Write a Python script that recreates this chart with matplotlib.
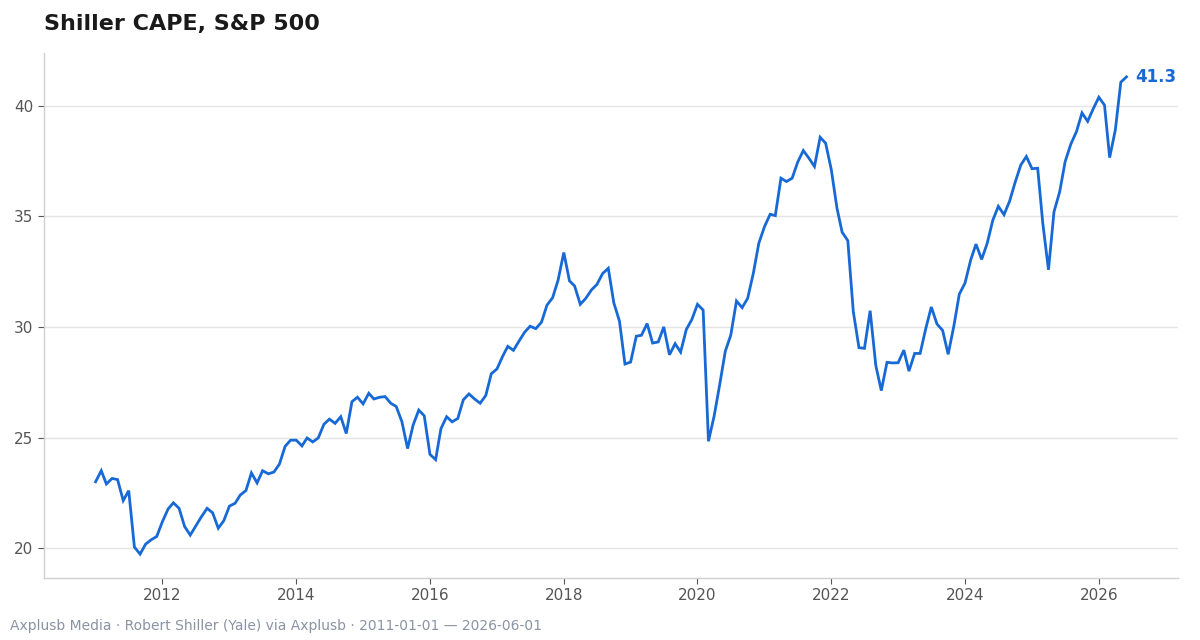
import matplotlib
matplotlib.use("Agg")
import matplotlib.pyplot as plt
import matplotlib.dates as mdates
import pandas as pd
import numpy as np

dates = pd.date_range("2011-01-01", "2026-06-01", freq="MS")

cape_2011 = [23.0, 23.5, 22.9, 23.15, 23.1, 22.15, 22.6, 20.05, 19.73, 20.18, 20.38, 20.53]
cape_2012 = [21.2, 21.77, 22.05, 21.8, 20.98, 20.59, 21.0, 21.42, 21.8, 21.6, 20.9, 21.24]
cape_2013 = [21.9, 22.03, 22.4, 22.6, 23.4, 22.95, 23.5, 23.36, 23.44, 23.8, 24.6, 24.88]
cape_2014 = [24.88, 24.62, 24.98, 24.8, 24.98, 25.6, 25.83, 25.64, 25.94, 25.18, 26.62, 26.82]
cape_2015 = [26.52, 27.0, 26.74, 26.82, 26.85, 26.55, 26.4, 25.71, 24.5, 25.56, 26.24, 25.98]
cape_2016 = [24.24, 24.0, 25.4, 25.94, 25.71, 25.86, 26.7, 26.97, 26.74, 26.55, 26.9, 27.88]
cape_2017 = [28.1, 28.67, 29.12, 28.94, 29.35, 29.76, 30.03, 29.92, 30.21, 30.98, 31.32, 32.12]
cape_2018 = [33.36, 32.08, 31.85, 31.02, 31.29, 31.67, 31.92, 32.41, 32.65, 31.09, 30.26, 28.32]
cape_2019 = [28.41, 29.58, 29.62, 30.15, 29.27, 29.32, 30.0, 28.74, 29.24, 28.86, 29.88, 30.33]
cape_2020 = [31.02, 30.76, 24.83, 25.97, 27.37, 28.9, 29.63, 31.17, 30.87, 31.29, 32.42, 33.78]
cape_2021 = [34.53, 35.09, 35.03, 36.72, 36.57, 36.72, 37.44, 37.97, 37.62, 37.25, 38.57, 38.3]
cape_2022 = [37.1, 35.36, 34.28, 33.9, 30.69, 29.06, 29.03, 30.73, 28.25, 27.12, 28.4, 28.37]
cape_2023 = [28.38, 28.95, 28.0, 28.8, 28.8, 29.93, 30.9, 30.13, 29.84, 28.76, 30.03, 31.48]
cape_2024 = [31.98, 33.02, 33.74, 33.05, 33.77, 34.82, 35.45, 35.07, 35.69, 36.54, 37.32, 37.7]
cape_2025 = [37.15, 37.17, 34.67, 32.58, 35.2, 36.1, 37.47, 38.26, 38.83, 39.67, 39.29, 39.85]
cape_2026 = [40.38, 40.02, 37.65, 38.9, 41.06, 41.3]

values = (cape_2011 + cape_2012 + cape_2013 + cape_2014 + cape_2015 + cape_2016 +
          cape_2017 + cape_2018 + cape_2019 + cape_2020 + cape_2021 + cape_2022 +
          cape_2023 + cape_2024 + cape_2025 + cape_2026)

title = "Shiller CAPE, S&P 500"
footer = "Axplusb Media · Robert Shiller (Yale) via Axplusb · 2011-01-01 — 2026-06-01"
line_color = "#1769d6"

fig = plt.figure(figsize=(12, 6.4), dpi=100)
ax = fig.add_axes([0.0367, 0.0969, 0.945, 0.8203])
ax.plot(dates, values, color=line_color, linewidth=2.0, solid_joinstyle="miter")

ax.set_yticks([20, 25, 30, 35, 40])
ax.xaxis.set_major_locator(mdates.YearLocator(2))
ax.xaxis.set_major_formatter(mdates.DateFormatter("%Y"))
ax.grid(axis="y", color="#e5e5e5", linewidth=1.0)
ax.set_axisbelow(True)
for s in ["top", "right"]:
    ax.spines[s].set_visible(False)
for s in ["left", "bottom"]:
    ax.spines[s].set_color("#d0d0d0")
    ax.spines[s].set_linewidth(1.0)
ax.tick_params(axis="both", colors="#555555", labelsize=11, length=4, width=0.8)

ax.annotate(f"{values[-1]:.1f}", xy=(dates[-1], values[-1]), xytext=(6, 0),
            textcoords="offset points", color=line_color, fontsize=12,
            fontweight="bold", va="center", ha="left")

fig.text(44 / 1200, 1 - 24 / 640, title, fontsize=16, fontweight="bold",
         color="#1a1a1a", ha="left", va="center")
fig.text(10 / 1200, 1 - 626 / 640, footer, fontsize=10, color="#8a93a3",
         ha="left", va="center")

fig.savefig("out.png", dpi=100)
